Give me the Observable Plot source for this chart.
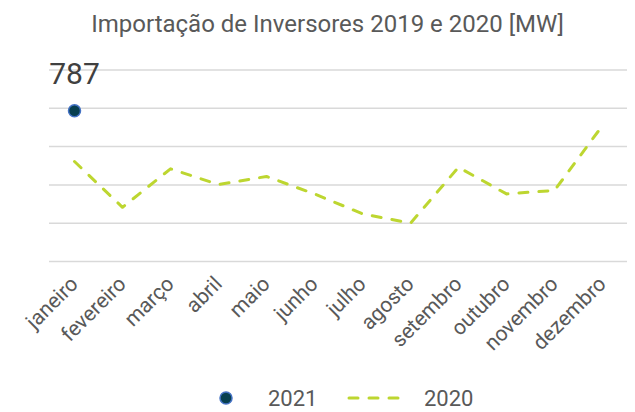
<!DOCTYPE html>
<html>
<head>
<meta charset="utf-8">
<script src="https://cdn.jsdelivr.net/npm/d3@7"></script>
<script src="https://cdn.jsdelivr.net/npm/@observablehq/plot@0.6"></script>
<style>
  html, body { margin: 0; padding: 0; background: #fff; }
  body { width: 635px; height: 412px; overflow: hidden; font-family: Roboto, sans-serif; }
  #title { height: 45px; text-align: center; color: #595959; font-size: 24px; line-height: 1; padding-left: 20px; box-sizing: border-box; }
  #title span { position: relative; top: 12px; }
  #legend { height: 47px; position: relative; color: #595959; font-size: 22px; }
</style>
</head>
<body>
<div id="title"><span>Importação de Inversores 2019 e 2020 [MW]</span></div>
<div id="chart"></div>
<div id="legend"></div>
<script>
const months = ["janeiro","fevereiro","março","abril","maio","junho","julho","agosto","setembro","outubro","novembro","dezembro"];
const values2020 = [522, 283, 484, 402, 444, 353, 249, 200, 492, 353, 371, 710];
const months2021 = ["janeiro"];
const values2021 = [787];
const yTicks = [0, 200, 400, 600, 800, 1000];
const seriesNames = ["2021", "2020"];

const line2020 = months.map((m, i) => ({month: m, value: values2020[i]}));
const pts2021 = months2021.map((m, i) => ({month: m, value: values2021[i]}));

const chart = Plot.plot({
  width: 635,
  height: 320,
  marginTop: 24.5,
  marginBottom: 104,
  marginLeft: 49,
  marginRight: 8,
  style: {fontFamily: "Roboto, sans-serif", color: "#595959", background: "#fff"},
  x: {type: "point", domain: months, padding: 0.5},
  y: {domain: [0, 1000]},
  marks: [
    Plot.ruleY(yTicks, {stroke: "#d9d9d9", strokeWidth: 1.5, strokeOpacity: 1}),
    Plot.axisY({ticks: [], label: null}),
    Plot.axisX({tickSize: 0, tickPadding: 19, tickRotate: -45, fontSize: 21, label: null, fill: "#595959"}),
    Plot.line(line2020, {x: "month", y: "value", stroke: "#bdd630", strokeWidth: 3, strokeDasharray: "9 11", strokeLinecap: "round", strokeLinejoin: "round"}),
    Plot.dot(pts2021, {x: "month", y: "value", r: 6, fill: "#073f4f", stroke: "#4472c4", strokeWidth: 1.5}),
    Plot.text(pts2021, {x: "month", y: "value", text: d => String(d.value), dy: -36.5, lineAnchor: "middle", fontSize: 30, fill: "#404040"})
  ]
});
document.getElementById("chart").appendChild(chart);

// legend
const lg = d3.select("#legend").append("svg").attr("width", 635).attr("height", 47);
lg.append("circle").attr("cx", 226).attr("cy", 33).attr("r", 6).attr("fill", "#073f4f").attr("stroke", "#4472c4").attr("stroke-width", 1.5);
lg.append("text").attr("x", 268).attr("y", 33).attr("dy", "0.35em").attr("font-size", 22).attr("fill", "#595959").attr("font-family", "Roboto, sans-serif").text(seriesNames[0]);
lg.append("line").attr("x1", 349).attr("x2", 404).attr("y1", 33).attr("y2", 33).attr("stroke", "#bdd630").attr("stroke-width", 3).attr("stroke-dasharray", "9 11").attr("stroke-linecap", "round");
lg.append("text").attr("x", 424).attr("y", 33).attr("dy", "0.35em").attr("font-size", 22).attr("fill", "#595959").attr("font-family", "Roboto, sans-serif").text(seriesNames[1]);
</script>
</body>
</html>
